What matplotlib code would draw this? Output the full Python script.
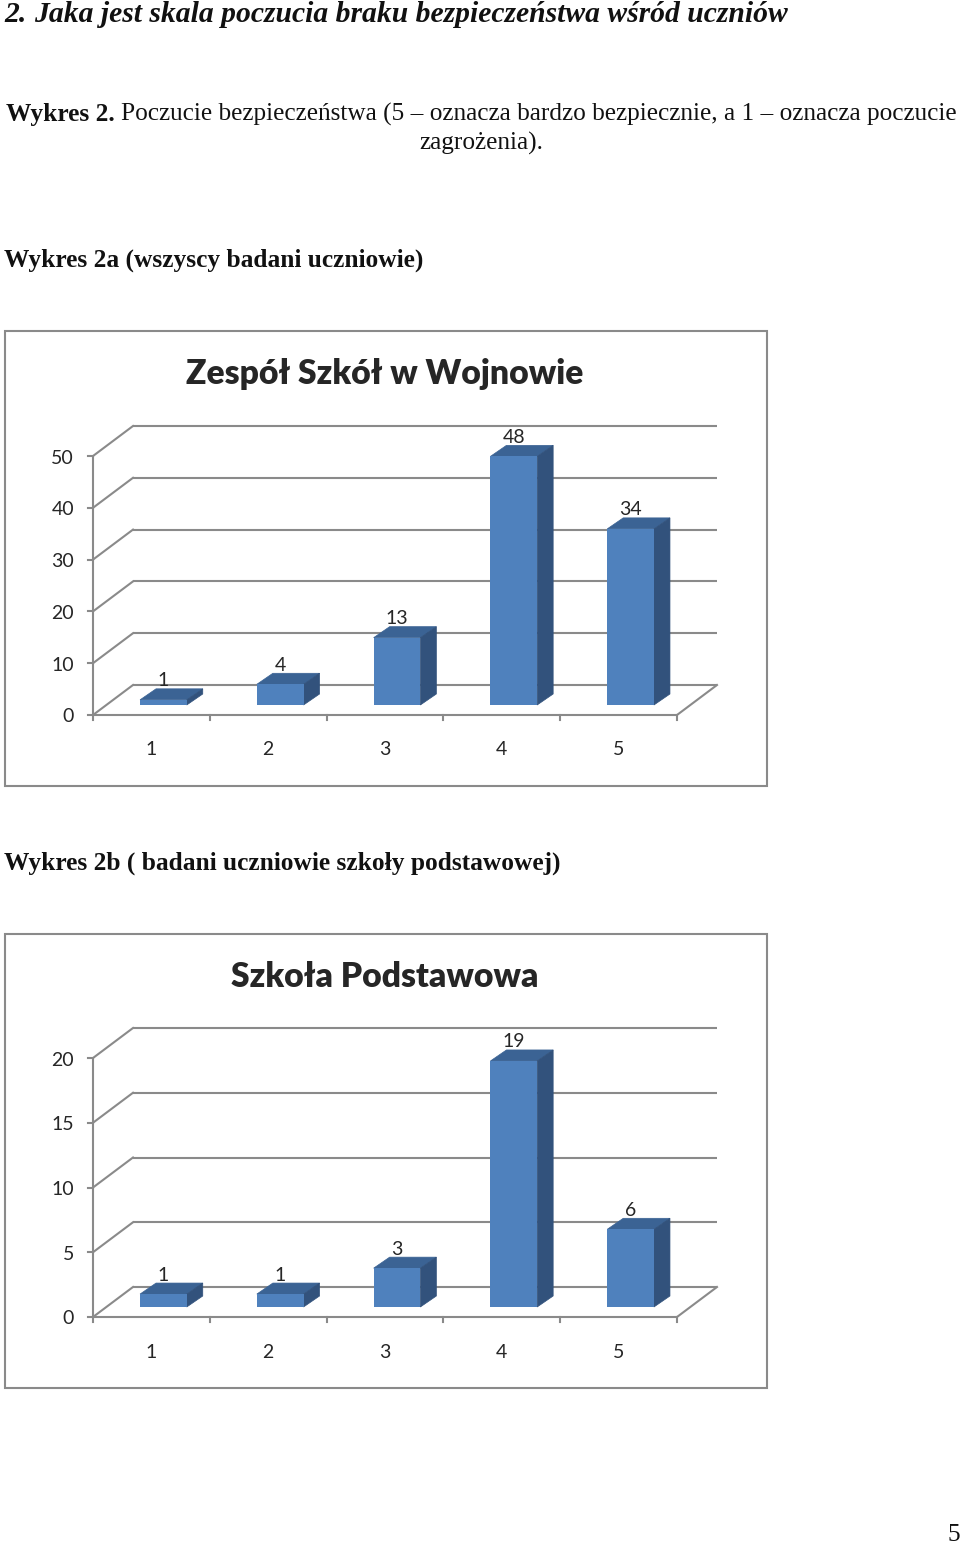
import matplotlib
matplotlib.use("Agg")
import matplotlib.pyplot as plt
from matplotlib.patches import Polygon, Rectangle
from matplotlib.transforms import Affine2D

W, H = 960, 1543

# dane
categories = ["1", "2", "3", "4", "5"]
values_all = [1, 4, 13, 48, 34]
values_primary = [1, 1, 3, 19, 6]
ticks_all = [0, 10, 20, 30, 40, 50]
ticks_primary = [0, 5, 10, 15, 20]
title_all = "Zespół Szkół w Wojnowie"
title_primary = "Szkoła Podstawowa"

GRID = "#8a8a8a"
FRONT = "#4f81bd"
SIDE = "#32527c"
TOP = "#3b6394"
INK = "#262626"
SERIF = "Liberation Serif"
CHART_FONT = "Lato"
TICK_SIZE = 14
LINE_W = 1.5

fig = plt.figure(figsize=(W / 100, H / 100), dpi=100, facecolor="white")


def page_text(x, y, s, **kw):
    fig.text(x / W, 1 - y / H, s, family=kw.pop("family", SERIF), color=kw.pop("color", "#111111"),
             va="center", **kw)


def fig_line(p, q):
    # linia w pikselach, pod osiami ze slupkami
    fig.add_artist(plt.Line2D([p[0] / W, q[0] / W], [p[1] / H, q[1] / H], color=GRID, lw=LINE_W,
                              transform=fig.transFigure, zorder=-0.5))


def chart(frame_top, frame_bottom, base_y, top_y, values, ticks, title):
    # ramka wykresu
    fig.add_artist(Rectangle((5 / W, 1 - frame_bottom / H), 762 / W, (frame_bottom - frame_top) / H,
                             transform=fig.transFigure, fc="white", ec=GRID, lw=LINE_W, zorder=-1))
    page_text(385, frame_top + 43, title, family=CHART_FONT, color=INK, fontsize=24.2,
              fontweight="heavy", ha="center")

    ax = fig.add_axes([93 / W, 1 - base_y / H, 584 / W, (base_y - top_y) / H])
    ax.set_xlim(0, len(values))
    ax.set_ylim(0, ticks[-1])
    ax.axis("off")

    def shifted(dx, dy):
        return ax.transData + Affine2D().translate(dx, dy)

    line = dict(color=GRID, lw=LINE_W, clip_on=False, zorder=1, solid_capstyle="butt")
    depth = shifted(40, 30)
    n = len(values)
    for t in ticks:
        ax.plot([0, n], [t, t], transform=depth, **line)
        p0 = ax.transData.transform((0, t))
        fig_line(p0, p0 + (40, 30))
        fig_line(p0 + (-5, 0), p0)
        fig.text(74 / W, (p0[1] - 2) / H, str(t), family=CHART_FONT, fontsize=TICK_SIZE, color=INK,
                 ha="right", va="center")

    # os x i podloga
    ax.plot([0, 0], [0, ticks[-1]], **line)
    ax.plot([0, n], [0, 0], **line)
    p0 = ax.transData.transform((n, 0))
    fig_line(p0, p0 + (40, 30))
    for i in range(n + 1):
        p = ax.transData.transform((i, 0))
        fig_line(p, p + (0, -5))

    # slupki pseudo 3D
    width = 0.4
    front = shifted(12, 10)
    dx, dy = 16, 11
    for i, (c, v) in enumerate(zip(categories, values)):
        x0 = i + 0.5 - width / 2
        x1 = x0 + width
        back = shifted(12 + dx, 10 + dy)
        corners = [front.transform(p) for p in [(x0, v), (x1, v), (x1, 0)]]
        rear = [back.transform(p) for p in [(x0, v), (x1, v), (x1, 0)]]
        inv = ax.transData.inverted()
        top = [corners[0], corners[1], rear[1], rear[0]]
        side = [corners[1], corners[2], rear[2], rear[1]]
        ax.add_patch(Polygon(inv.transform(top), fc=TOP, ec=TOP, lw=0.5, clip_on=False, zorder=5))
        ax.add_patch(Polygon(inv.transform(side), fc=SIDE, ec=SIDE, lw=0.5, clip_on=False, zorder=5))
        ax.bar(i + 0.5, v, width, color=FRONT, transform=front, clip_on=False, zorder=6)
        # wartosc nad slupkiem
        tx, ty = front.transform((i + 0.5, v))
        fig.text(tx / W, (ty + 19) / H, str(v), family=CHART_FONT, fontsize=TICK_SIZE, color=INK,
                 ha="center", va="center", zorder=6)
        lx, ly = ax.transData.transform((i + 0.5, 0))
        fig.text(lx / W, (ly - 35) / H, c, family=CHART_FONT, fontsize=TICK_SIZE, color=INK,
                 ha="center", va="center")


page_text(4, 15, "2.", fontsize=21.3, fontstyle="italic", fontweight="bold")
page_text(34, 15, "Jaka jest skala poczucia braku bezpieczeństwa wśród uczniów", fontsize=21.3,
          fontstyle="italic", fontweight="bold")
page_text(6, 114, "Wykres 2.", fontsize=18.3, fontweight="bold")
page_text(121, 114, "Poczucie bezpieczeństwa (5 – oznacza bardzo bezpiecznie, a 1 – oznacza poczucie", fontsize=18.21)
page_text(481, 143, "zagrożenia).", fontsize=18.21, ha="center")
page_text(4, 260, "Wykres 2a (wszyscy badani uczniowie)", fontsize=18.25, fontweight="bold")
page_text(4, 863, "Wykres 2b ( badani uczniowie szkoły podstawowej)", fontsize=18.25, fontweight="bold")
page_text(954, 1535, "5", fontsize=18.3, ha="center")

chart(331, 786, 715, 456, values_all, ticks_all, title_all)
chart(934, 1388, 1317, 1058, values_primary, ticks_primary, title_primary)

fig.savefig("out.png", dpi=100)
